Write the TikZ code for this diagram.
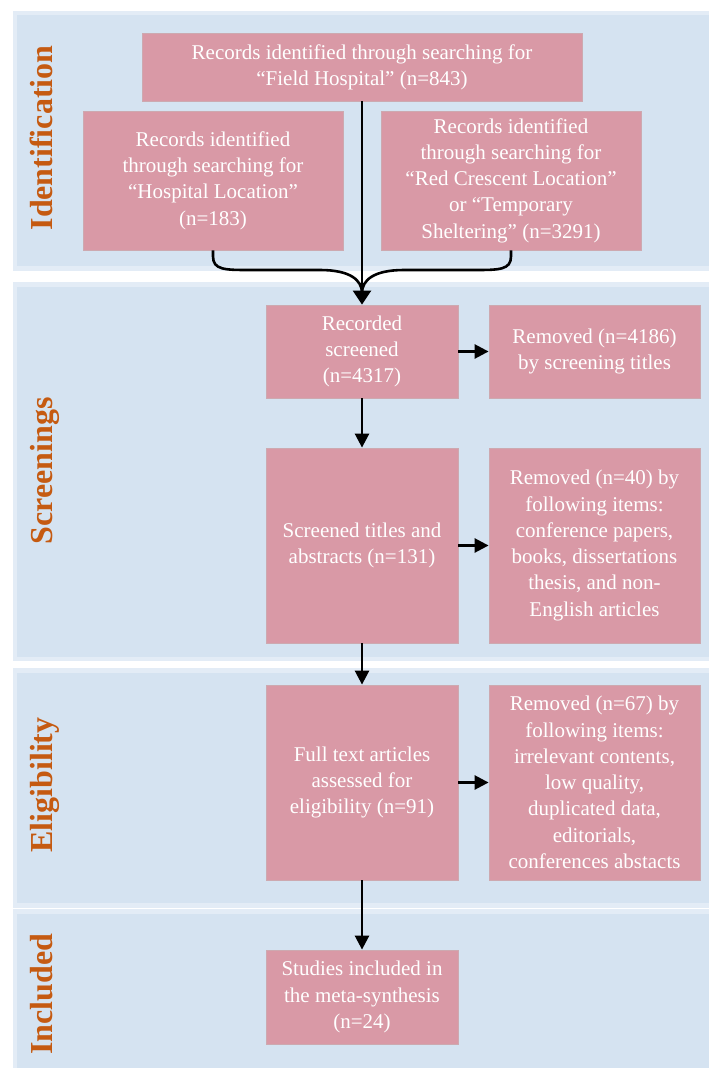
\documentclass[tikz,border=0pt]{standalone}
\usepackage{fontspec}
\setmainfont{Liberation Serif}
\usetikzlibrary{arrows.meta}
\definecolor{bandfill}{HTML}{D5E3F1}
\definecolor{bandedge}{HTML}{E3ECF6}
\definecolor{boxfill}{HTML}{D999A6}
\definecolor{boxedge}{HTML}{CDA9B0}
\definecolor{lbl}{HTML}{C55A11}
\tikzset{
  x=1pt, y=-1pt,
  stagebox/.style={fill=boxfill, draw=boxedge, line width=0.8pt, text=white, align=center, inner sep=0pt,
    font=\fontsize{21}{26.3}\selectfont},
  phase/.style={text=lbl, rotate=90, anchor=base, font=\fontsize{32}{36}\selectfont\bfseries},
  flow/.style={line width=2.6pt, -{Triangle[length=14pt,width=14pt]}},
  bigflow/.style={line width=2.6pt, -{Triangle[length=14pt,width=18pt]}},
  brace/.style={line width=2.6pt},
}
\begin{document}
\begin{tikzpicture}
\useasboundingbox (0,0) rectangle (709,1068);
% bands
\fill[bandedge] (13,11) rectangle (712,271);
\fill[bandfill] (17,15) rectangle (712,266);
\fill[bandedge] (13,282) rectangle (712,661);
\fill[bandfill] (17,287) rectangle (712,657);
\fill[bandedge] (13,668) rectangle (712,908);
\fill[bandfill] (17,673) rectangle (712,903);
\fill[bandedge] (13,909) rectangle (712,1072);
\fill[bandfill] (17,914) rectangle (712,1072);
% phase labels
\node[phase] (lid) at (52,138) {Identification};
\node[phase] (lsc) at (52,471) {Screenings};
\node[phase] (lel) at (52,785) {Eligibility};
\node[phase] (lin) at (52,994) {Included};
% boxes
\node[stagebox, minimum width=440pt, minimum height=68pt] (b1) at (362,67)
  {Records identified through searching for\\“Field Hospital” (n=843)};
\node[stagebox, minimum width=260pt, minimum height=139pt] (b2) at (213,180.5)
  {Records identified\\through searching for\\“Hospital Location”\\(n=183)};
\node[stagebox, minimum width=260pt, minimum height=139pt] (b3) at (511,180.5)
  {Records identified\\through searching for\\“Red Crescent Location”\\or “Temporary\\Sheltering” (n=3291)};
\node[stagebox, minimum width=192pt, minimum height=93pt] (b4) at (362,351.5)
  {Recorded\\screened\\(n=4317)};
\node[stagebox, minimum width=211pt, minimum height=93pt] (b5) at (594.5,351.5)
  {Removed (n=4186)\\by screening titles};
\node[stagebox, minimum width=192pt, minimum height=195pt] (b6) at (362,545.5)
  {Screened titles and\\abstracts (n=131)};
\node[stagebox, minimum width=211pt, minimum height=195pt] (b7) at (594.5,545.5)
  {Removed (n=40) by\\following items:\\conference papers,\\books, dissertations\\thesis, and non-\\English articles};
\node[stagebox, minimum width=192pt, minimum height=195pt] (b8) at (362,782.5)
  {Full text articles\\assessed for\\eligibility (n=91)};
\node[stagebox, minimum width=211pt, minimum height=195pt] (b9) at (594.5,782.5)
  {Removed (n=67) by\\following items:\\irrelevant contents,\\low quality,\\duplicated data,\\editorials,\\conferences abstacts};
\node[stagebox, minimum width=192pt, minimum height=94pt] (b10) at (362,997)
  {Studies included in\\the meta-synthesis\\(n=24)};
% connectors
\coordinate (m) at (362,293);
\draw[brace] (b2.south) -- ++(0,6) .. controls (213,270) and (225,270) .. (250,270)
  -- (320,270) .. controls (350,270) and (362,280) .. (m);
\draw[brace] (b3.south) -- ++(0,6) .. controls (511,270) and (499,270) .. (474,270)
  -- (404,270) .. controls (374,270) and (362,280) .. (m);
\draw[bigflow] (b1.south) -- (b4.north);
\draw[flow] (b4.south) -- (b6.north);
\draw[flow] (b6.south) -- (b8.north);
\draw[flow] (b8.south) -- (b10.north);
\draw[flow] (b4.east) -- (b5.west);
\draw[flow] (b6.east) -- (b7.west);
\draw[flow] (b8.east) -- (b9.west);
\end{tikzpicture}
\end{document}
